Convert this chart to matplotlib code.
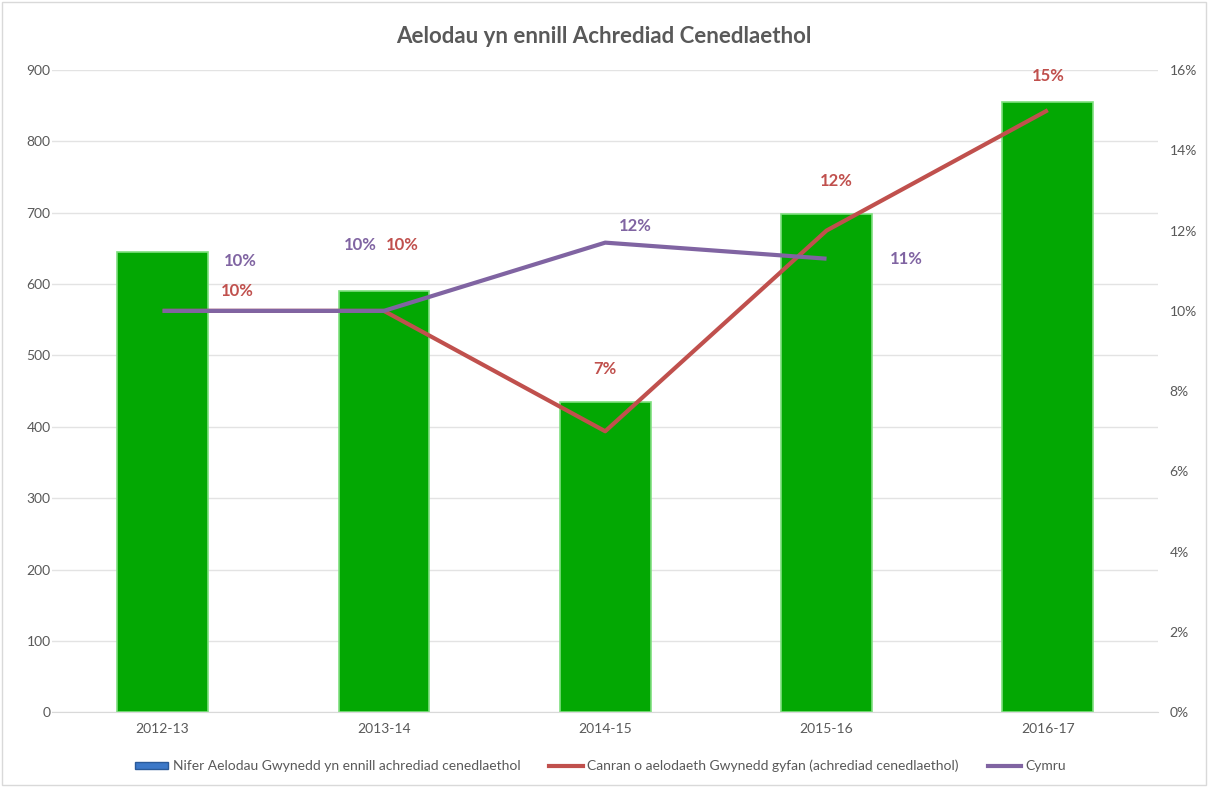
import matplotlib
matplotlib.use("Agg")
import matplotlib.pyplot as plt
import numpy as np
from matplotlib.patches import Patch, Rectangle
from matplotlib.lines import Line2D

plt.rcParams['font.family'] = ['Lato', 'DejaVu Sans']

years = ["2012-13", "2013-14", "2014-15", "2015-16", "2016-17"]
members = [645, 590, 435, 698, 855]
gwynedd_pct = [10.0, 10.0, 7.0, 12.0, 15.0]
cymru_pct = [10.0, 10.0, 11.7, 11.3]
gwynedd_labels = ["10%", "10%", "7%", "12%", "15%"]
cymru_labels = ["10%", "10%", "12%", "11%"]

RED = "#C0504D"
PURPLE = "#8064A2"
GREEN = "#03A803"
GREY = "#595959"

fig = plt.figure(figsize=(12.08, 7.87), dpi=100)
fig.patches.append(Rectangle((0.002, 0.002), 0.996, 0.996, transform=fig.transFigure,
                             fill=False, ec="#D9D9D9", lw=1))
ax = fig.add_axes([0.043, 0.095, 0.916, 0.816])
x = np.arange(len(years))
ax.bar(x, members, 0.41, color=GREEN, edgecolor="#7FDF7F", lw=1.2, zorder=2)
ax.set_ylim(0, 900)
ax.set_yticks(range(0, 901, 100))
ax.set_xlim(-0.5, 4.5)
ax.set_xticks(x)
ax.set_xticklabels(years)
ax.grid(axis="y", color="#E3E3E3", lw=1, zorder=0)
ax.set_axisbelow(True)
for s in ["top", "right", "left"]:
    ax.spines[s].set_visible(False)
ax.spines["bottom"].set_color("#D9D9D9")
ax.tick_params(length=0, colors=GREY, labelsize=10, pad=1)
ax.tick_params(axis="x", pad=8)

ax2 = ax.twinx()
ax2.set_ylim(0, 16)
ax2.set_yticks(range(0, 17, 2))
ax2.set_yticklabels([f"{v}%" for v in range(0, 17, 2)])
for s in ax2.spines.values():
    s.set_visible(False)
ax2.tick_params(length=0, colors=GREY, labelsize=10, pad=8)

ax2.plot(x, gwynedd_pct, color=RED, lw=3, zorder=3, solid_capstyle="butt")
ax2.plot(x[:len(cymru_pct)], cymru_pct, color=PURPLE, lw=3, zorder=4, solid_capstyle="butt")

red_off = [(75, 20), (18, 66), (0, 62), (10, 50), (0, 34)]
pur_off = [(78, 50), (-24, 66), (30, 17), (80, 0)]
for i, (v, t) in enumerate(zip(gwynedd_pct, gwynedd_labels)):
    ax2.annotate(t, (x[i], v), xytext=red_off[i], textcoords="offset pixels",
                 ha="center", va="center", color=RED, fontsize=12, fontweight="bold")
for i, (v, t) in enumerate(zip(cymru_pct, cymru_labels)):
    ax2.annotate(t, (x[i], v), xytext=pur_off[i], textcoords="offset pixels",
                 ha="center", va="center", color=PURPLE, fontsize=12, fontweight="bold")

fig.text(0.5, 0.953, "Aelodau yn ennill Achrediad Cenedlaethol", ha="center", va="center",
         fontsize=16, fontweight="bold", color=GREY)

handles = [Patch(facecolor="#3C78C8", edgecolor="#2A5A9A"),
           Line2D([], [], color=RED, lw=3),
           Line2D([], [], color=PURPLE, lw=3)]
labels = ["Nifer Aelodau Gwynedd yn ennill achrediad cenedlaethol",
          "Canran o aelodaeth Gwynedd gyfan (achrediad cenedlaethol)",
          "Cymru"]
fig.legend(handles, labels, loc="center", bbox_to_anchor=(0.497, 0.027), ncol=3,
           frameon=False, fontsize=10, labelcolor=GREY, columnspacing=2.1,
           handlelength=2.4, handleheight=0.4, handletextpad=0.3)

fig.savefig("out.png", dpi=100)
